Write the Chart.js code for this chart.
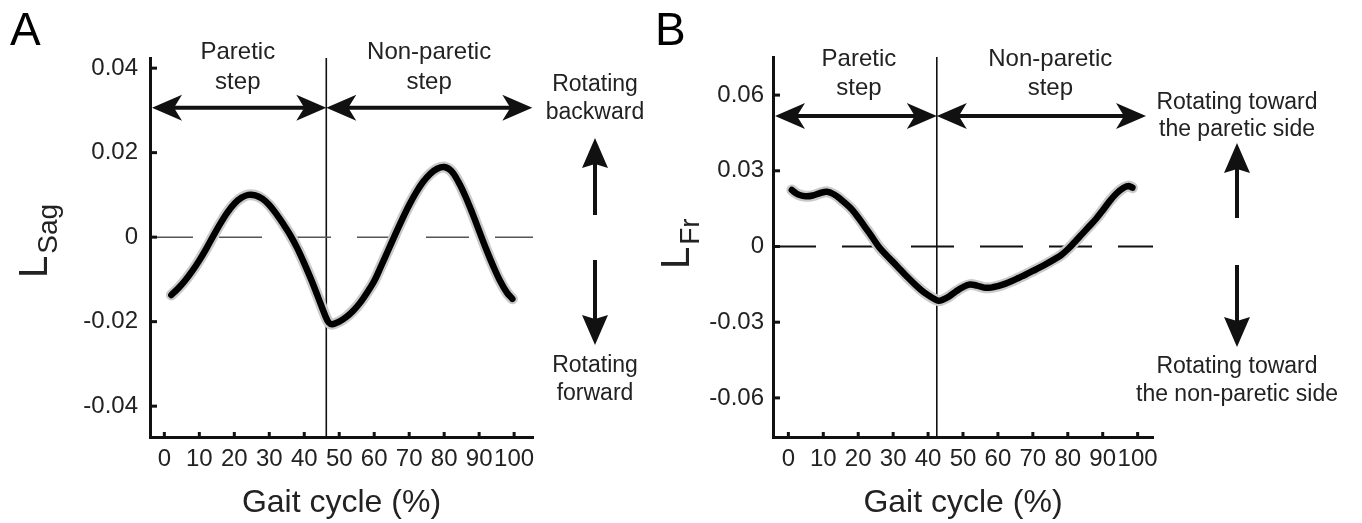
<!DOCTYPE html>
<html>
<head>
<meta charset="utf-8">
<title>Angular momentum over the gait cycle</title>
<script src="https://cdn.jsdelivr.net/npm/chart.js@4.4.1/dist/chart.umd.min.js"></script>
<style>
  html, body { margin: 0; padding: 0; background: #fff; }
  #wrap { position: relative; width: 1362px; height: 523px; overflow: hidden; }
  canvas { position: absolute; top: 0; }
</style>
</head>
<body>
<div id="wrap">
  <canvas id="chartA" width="652" height="523" style="left:0"></canvas>
  <canvas id="chartB" width="710" height="523" style="left:652px"></canvas>
</div>
<script>
// ---- data ----
const gaitA = [2, 4, 6, 8, 10, 12, 14, 16, 18, 20, 22, 24, 26, 28, 30, 32, 34, 36, 38, 40,
  42, 44, 46, 47, 48, 50, 52, 54, 56, 58, 60, 62, 64, 66, 68, 70, 72, 74, 76, 78,
  80, 82, 84, 86, 88, 90, 92, 94, 96, 98, 99.5];
const sagValues = [-0.0137, -0.0121, -0.0102, -0.0080, -0.0055, -0.0027, 0.0003, 0.0032, 0.0058, 0.0079,
  0.0093, 0.0100, 0.0099, 0.0091, 0.0076, 0.0055, 0.0031, 0.0005, -0.0026, -0.0062,
  -0.0101, -0.0143, -0.0186, -0.0202, -0.0206, -0.0200, -0.0189, -0.0174, -0.0155, -0.0131,
  -0.0104, -0.0068, -0.0031, 0.0006, 0.0042, 0.0076, 0.0106, 0.0131, 0.0150, 0.0162,
  0.0166, 0.0157, 0.0132, 0.0098, 0.0058, 0.0015, -0.0028, -0.0068, -0.0104, -0.0132, -0.0146];

const gaitB = [1, 2, 3, 5, 7, 9, 11, 13, 15, 18, 20, 22, 24, 26, 28, 30, 32, 34, 36, 38,
  40, 42, 43, 44, 46, 48, 50, 52, 54, 56, 58, 60, 62, 64, 66, 68, 70, 72, 74, 76,
  78, 80, 82, 84, 86, 88, 90, 92, 94, 96, 97.5, 98.5];
const frValues = [0.0224, 0.0213, 0.0205, 0.0199, 0.0202, 0.0211, 0.0217, 0.0207, 0.0187, 0.0150,
  0.0115, 0.0076, 0.0037, -0.0003, -0.0034, -0.0062, -0.0091, -0.0120, -0.0147, -0.0172,
  -0.0193, -0.0210, -0.0215, -0.0212, -0.0198, -0.0178, -0.0161, -0.0151, -0.0155, -0.0163,
  -0.0163, -0.0157, -0.0148, -0.0137, -0.0124, -0.0111, -0.0097, -0.0083, -0.0068, -0.0052,
  -0.0035, -0.0011, 0.0018, 0.0048, 0.0078, 0.0108, 0.0143, 0.0180, 0.0211, 0.0233, 0.0240, 0.0233];

const gaitTicks = [0, 10, 20, 30, 40, 50, 60, 70, 80, 90, 100];
const sagTicks = [-0.04, -0.02, 0, 0.02, 0.04];
const frTicks = [-0.06, -0.03, 0, 0.03, 0.06];

const stepBoundaryA = 46.3;   // % gait cycle where the paretic step ends
const stepBoundaryB = 42.5;

const stepNames = [['Paretic', 'step'], ['Non-paretic', 'step']];

// ---- look ----
const family = '"Liberation Sans", Arial, Helvetica, sans-serif';
const ink = '#111';
const textInk = '#222';
Chart.defaults.font.family = family;
Chart.defaults.color = textInk;

function head(ctx, tx, ty, dx, dy, len, half, notch) {
  const px = -dy, py = dx;
  ctx.beginPath();
  ctx.moveTo(tx, ty);
  ctx.lineTo(tx - dx * len + px * half, ty - dy * len + py * half);
  ctx.lineTo(tx - dx * (len - notch), ty - dy * (len - notch));
  ctx.lineTo(tx - dx * len - px * half, ty - dy * len - py * half);
  ctx.closePath();
  ctx.fill();
}

function doubleArrow(ctx, x1, x2, y) {
  ctx.lineWidth = 4;
  ctx.beginPath();
  ctx.moveTo(x1 + 20, y);
  ctx.lineTo(x2 - 20, y);
  ctx.stroke();
  head(ctx, x1, y, -1, 0, 30, 13, 8);
  head(ctx, x2, y, 1, 0, 30, 13, 8);
}

function vArrow(ctx, x, yFrom, yTo) {
  const dir = yTo > yFrom ? 1 : -1;
  ctx.lineWidth = 4;
  ctx.beginPath();
  ctx.moveTo(x, yFrom);
  ctx.lineTo(x, yTo - dir * 22);
  ctx.stroke();
  head(ctx, x, yTo, 0, dir, 30, 13, 4);
}

function makeDecor(cfg) {
  return {
    id: 'decor' + cfg.letter,
    afterDatasetsDraw(chart) {
      const {ctx, chartArea: area, scales: {x, y}} = chart;
      ctx.save();
      ctx.fillStyle = ink;
      ctx.strokeStyle = ink;

      // inward tick marks
      ctx.lineWidth = 3;
      y.ticks.forEach(t => {
        const py = y.getPixelForValue(t.value);
        ctx.beginPath(); ctx.moveTo(area.left, py); ctx.lineTo(area.left + 7, py); ctx.stroke();
      });
      x.ticks.forEach(t => {
        const px = x.getPixelForValue(t.value);
        ctx.beginPath(); ctx.moveTo(px, area.bottom); ctx.lineTo(px, area.bottom - 5); ctx.stroke();
      });

      // step arrows
      const ay = y.getPixelForValue(cfg.arrowY);
      const xb = x.getPixelForValue(cfg.boundary);
      doubleArrow(ctx, area.left + 2, xb, ay);
      doubleArrow(ctx, xb, x.getPixelForValue(cfg.arrowEnd), ay);

      // step names
      ctx.fillStyle = textInk;
      ctx.font = '24px ' + family;
      ctx.textAlign = 'center';
      ctx.textBaseline = 'alphabetic';
      stepNames.forEach((lines, i) => {
        const cx = x.getPixelForValue(cfg.nameCenters[i]);
        lines.forEach((s, k) => ctx.fillText(s, cx, cfg.nameBaselines[k]));
      });

      // direction notes on the right
      ctx.font = '23px ' + family;
      cfg.upText.forEach((s, k) => ctx.fillText(s, cfg.noteX, cfg.upBaselines[k]));
      cfg.downText.forEach((s, k) => ctx.fillText(s, cfg.noteX, cfg.downBaselines[k]));
      ctx.fillStyle = ink;
      vArrow(ctx, cfg.noteX, cfg.upArrow[1], cfg.upArrow[0]);
      vArrow(ctx, cfg.noteX, cfg.downArrow[0], cfg.downArrow[1]);

      // panel letter
      ctx.fillStyle = '#000';
      ctx.textAlign = 'left';
      ctx.font = '46px ' + family;
      ctx.fillText(cfg.letter, cfg.letterX, 45);

      // y label with subscript
      ctx.fillStyle = textInk;
      ctx.translate(cfg.yLabelX, cfg.yLabelY);
      ctx.rotate(-Math.PI / 2);
      ctx.font = '40px ' + family;
      ctx.fillText('L', 0, 0);
      const w = ctx.measureText('L').width;
      ctx.font = '28px ' + family;
      ctx.fillText(cfg.sub, w + 2, 10);
      ctx.restore();
    }
  };
}

function buildChart(id, xs, ys, yTicks, range, cfg) {
  const pts = xs.map((v, i) => ({x: v, y: ys[i]}));
  return new Chart(document.getElementById(id), {
    type: 'line',
    data: {
      datasets: [
        { data: pts, borderColor: '#000', borderWidth: 6.5, pointRadius: 0, tension: 0.35,
          borderJoinStyle: 'round', borderCapStyle: 'round' },
        { data: pts, borderColor: '#cacaca', borderWidth: 11, pointRadius: 0, tension: 0.35,
          borderJoinStyle: 'round', borderCapStyle: 'round' },
        { data: [{x: range.xmin, y: 0}, {x: range.xmax, y: 0}], borderColor: cfg.zeroColor,
          borderWidth: cfg.zeroWidth, borderDash: [43, 26], pointRadius: 0 },
        { data: [{x: cfg.boundary, y: range.ymin}, {x: cfg.boundary, y: range.ymax}],
          borderColor: ink, borderWidth: 1.6, pointRadius: 0 }
      ]
    },
    options: {
      responsive: false,
      animation: false,
      events: [],
      layout: { padding: cfg.padding },
      plugins: { legend: { display: false }, tooltip: { enabled: false } },
      scales: {
        x: {
          type: 'linear', min: range.xmin, max: range.xmax,
          afterBuildTicks: s => { s.ticks = gaitTicks.map(v => ({value: v})); },
          afterFit: s => { s.height = 86; },
          grid: { display: false, drawTicks: false },
          border: { display: true, color: ink, width: 3 },
          ticks: { font: { size: 24 }, padding: 8, autoSkip: false, maxRotation: 0, minRotation: 0, color: textInk },
          title: { display: true, text: 'Gait cycle (%)', font: { size: 32 }, color: textInk,
            padding: { top: 0, bottom: 1 } }
        },
        y: {
          min: range.ymin, max: range.ymax,
          afterBuildTicks: s => { s.ticks = yTicks.map(v => ({value: v})); },
          afterFit: s => { s.width = cfg.yWidth; },
          grid: { display: false, drawTicks: false },
          border: { display: true, color: ink, width: 3 },
          ticks: { font: { size: 24 }, padding: cfg.yPad, autoSkip: false, color: textInk,
            callback: v => (v === 0 ? '0' : String(v)) }
        }
      }
    },
    plugins: [makeDecor(cfg)]
  });
}

buildChart('chartA', gaitA, sagValues, sagTicks,
  { xmin: -4.1, xmax: 105.4, ymin: -0.0473, ymax: 0.0424 },
  { letter: 'A', letterX: 10, sub: 'Sag', yLabelX: 47, yLabelY: 278,
    padding: { left: 0, top: 58, right: 119, bottom: 0 }, yWidth: 150, yPad: 12,
    boundary: stepBoundaryA, arrowY: 0.0306, arrowEnd: 105.2,
    nameCenters: [21, 75.7], nameBaselines: [59, 89],
    zeroColor: '#555', zeroWidth: 1.5,
    noteX: 595,
    upText: ['Rotating', 'backward'], upBaselines: [91, 119],
    downText: ['Rotating', 'forward'], downBaselines: [372, 400],
    upArrow: [138, 215], downArrow: [260, 345] });

buildChart('chartB', gaitB, frValues, frTicks,
  { xmin: -4.4, xmax: 104.4, ymin: -0.0755, ymax: 0.0751 },
  { letter: 'B', letterX: 3, sub: 'Fr', yLabelX: 37, yLabelY: 269,
    padding: { left: 0, top: 57, right: 209, bottom: 0 }, yWidth: 121, yPad: 9,
    boundary: stepBoundaryB, arrowY: 0.0517, arrowEnd: 102.4,
    nameCenters: [20.2, 75], nameBaselines: [66, 95],
    zeroColor: '#111', zeroWidth: 2,
    noteX: 585,
    upText: ['Rotating toward', 'the paretic side'], upBaselines: [109, 136],
    downText: ['Rotating toward', 'the non-paretic side'], downBaselines: [373, 401],
    upArrow: [143, 218], downArrow: [265, 347] });
</script>
</body>
</html>
